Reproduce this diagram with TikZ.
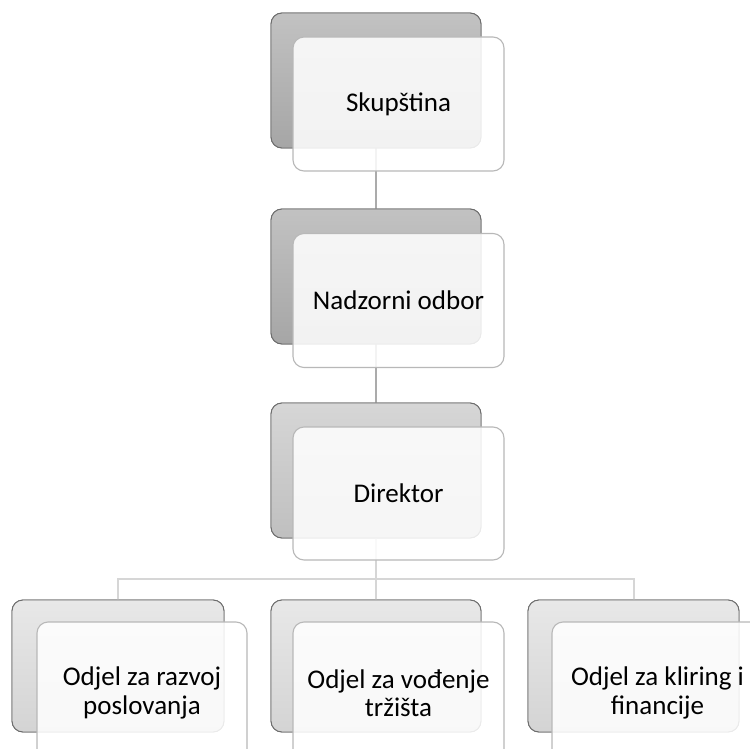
\documentclass[tikz,border=0pt]{standalone}
\usepackage{fontspec}
\setmainfont{Carlito}
\begin{document}
\begin{tikzpicture}[x=1pt,y=-1pt,
  backbox/.style={draw=black!58, line width=0.9pt, rounded corners=11pt, minimum width=210pt, minimum height=135pt, inner sep=0pt},
  frontbox/.style={draw=black!28, line width=1.1pt, rounded corners=11pt, fill=white, fill opacity=0.86, text opacity=1, minimum width=211pt, minimum height=134pt, align=center, inner sep=0pt, font=\fontsize{27}{28.5}\selectfont},
  lvlA/.style={top color=black!24, bottom color=black!35},
  lvlB/.style={top color=black!16, bottom color=black!25},
  lvlC/.style={top color=black!9, bottom color=black!17},
  conA/.style={draw=black!33, line width=2pt},
  conB/.style={draw=black!16, line width=2pt}]
\useasboundingbox (0,0) rectangle (750,749);
\coordinate (bus) at (376,579);
% back boxes
\node[backbox, lvlA] (b1) at (376,80.5) {};
\node[backbox, lvlA] (b2) at (376,276.5) {};
\node[backbox, lvlB] (b3) at (376,470.5) {};
\node[backbox, lvlC, minimum width=212pt, minimum height=132pt] (b4) at (118,666) {};
\node[backbox, lvlC, minimum width=210pt, minimum height=132pt] (b5) at (376,666) {};
\node[backbox, lvlC, minimum width=211pt, minimum height=132pt] (b6) at (633.5,666) {};
% connectors
\draw[conA] (b1.south) -- (b2.north);
\draw[conA] (b2.south) -- (b3.north);
\draw[conB] (b3.south) -- (bus);
\draw[conB] (b4.north) |- (bus) -| (b6.north);
\draw[conB] (bus) -- (b5.north);
% redraw back boxes over connector ends
\node[backbox, lvlA] at (376,80.5) {};
\node[backbox, lvlA] at (376,276.5) {};
\node[backbox, lvlB] at (376,470.5) {};
\node[backbox, lvlC, minimum width=212pt, minimum height=132pt] at (118,666) {};
\node[backbox, lvlC, minimum width=210pt, minimum height=132pt] at (376,666) {};
\node[backbox, lvlC, minimum width=211pt, minimum height=132pt] at (633.5,666) {};
% front boxes
\node[frontbox] (f1) at (398.5,104) {Skupština};
\node[frontbox] (f2) at (398.5,300.5) {Nadzorni odbor};
\node[frontbox, minimum height=133pt] (f3) at (398.5,493.5) {Direktor};
\node[frontbox, minimum width=210pt, minimum height=142pt] (f4) at (142,693) {Odjel za razvoj\\poslovanja};
\node[frontbox, minimum height=142pt] (f5) at (398.5,693) {Odjel za vođenje\\tržišta};
\node[frontbox, minimum height=142pt] (f6) at (657.5,693) {Odjel za kliring i\\financije};
\end{tikzpicture}
\end{document}
